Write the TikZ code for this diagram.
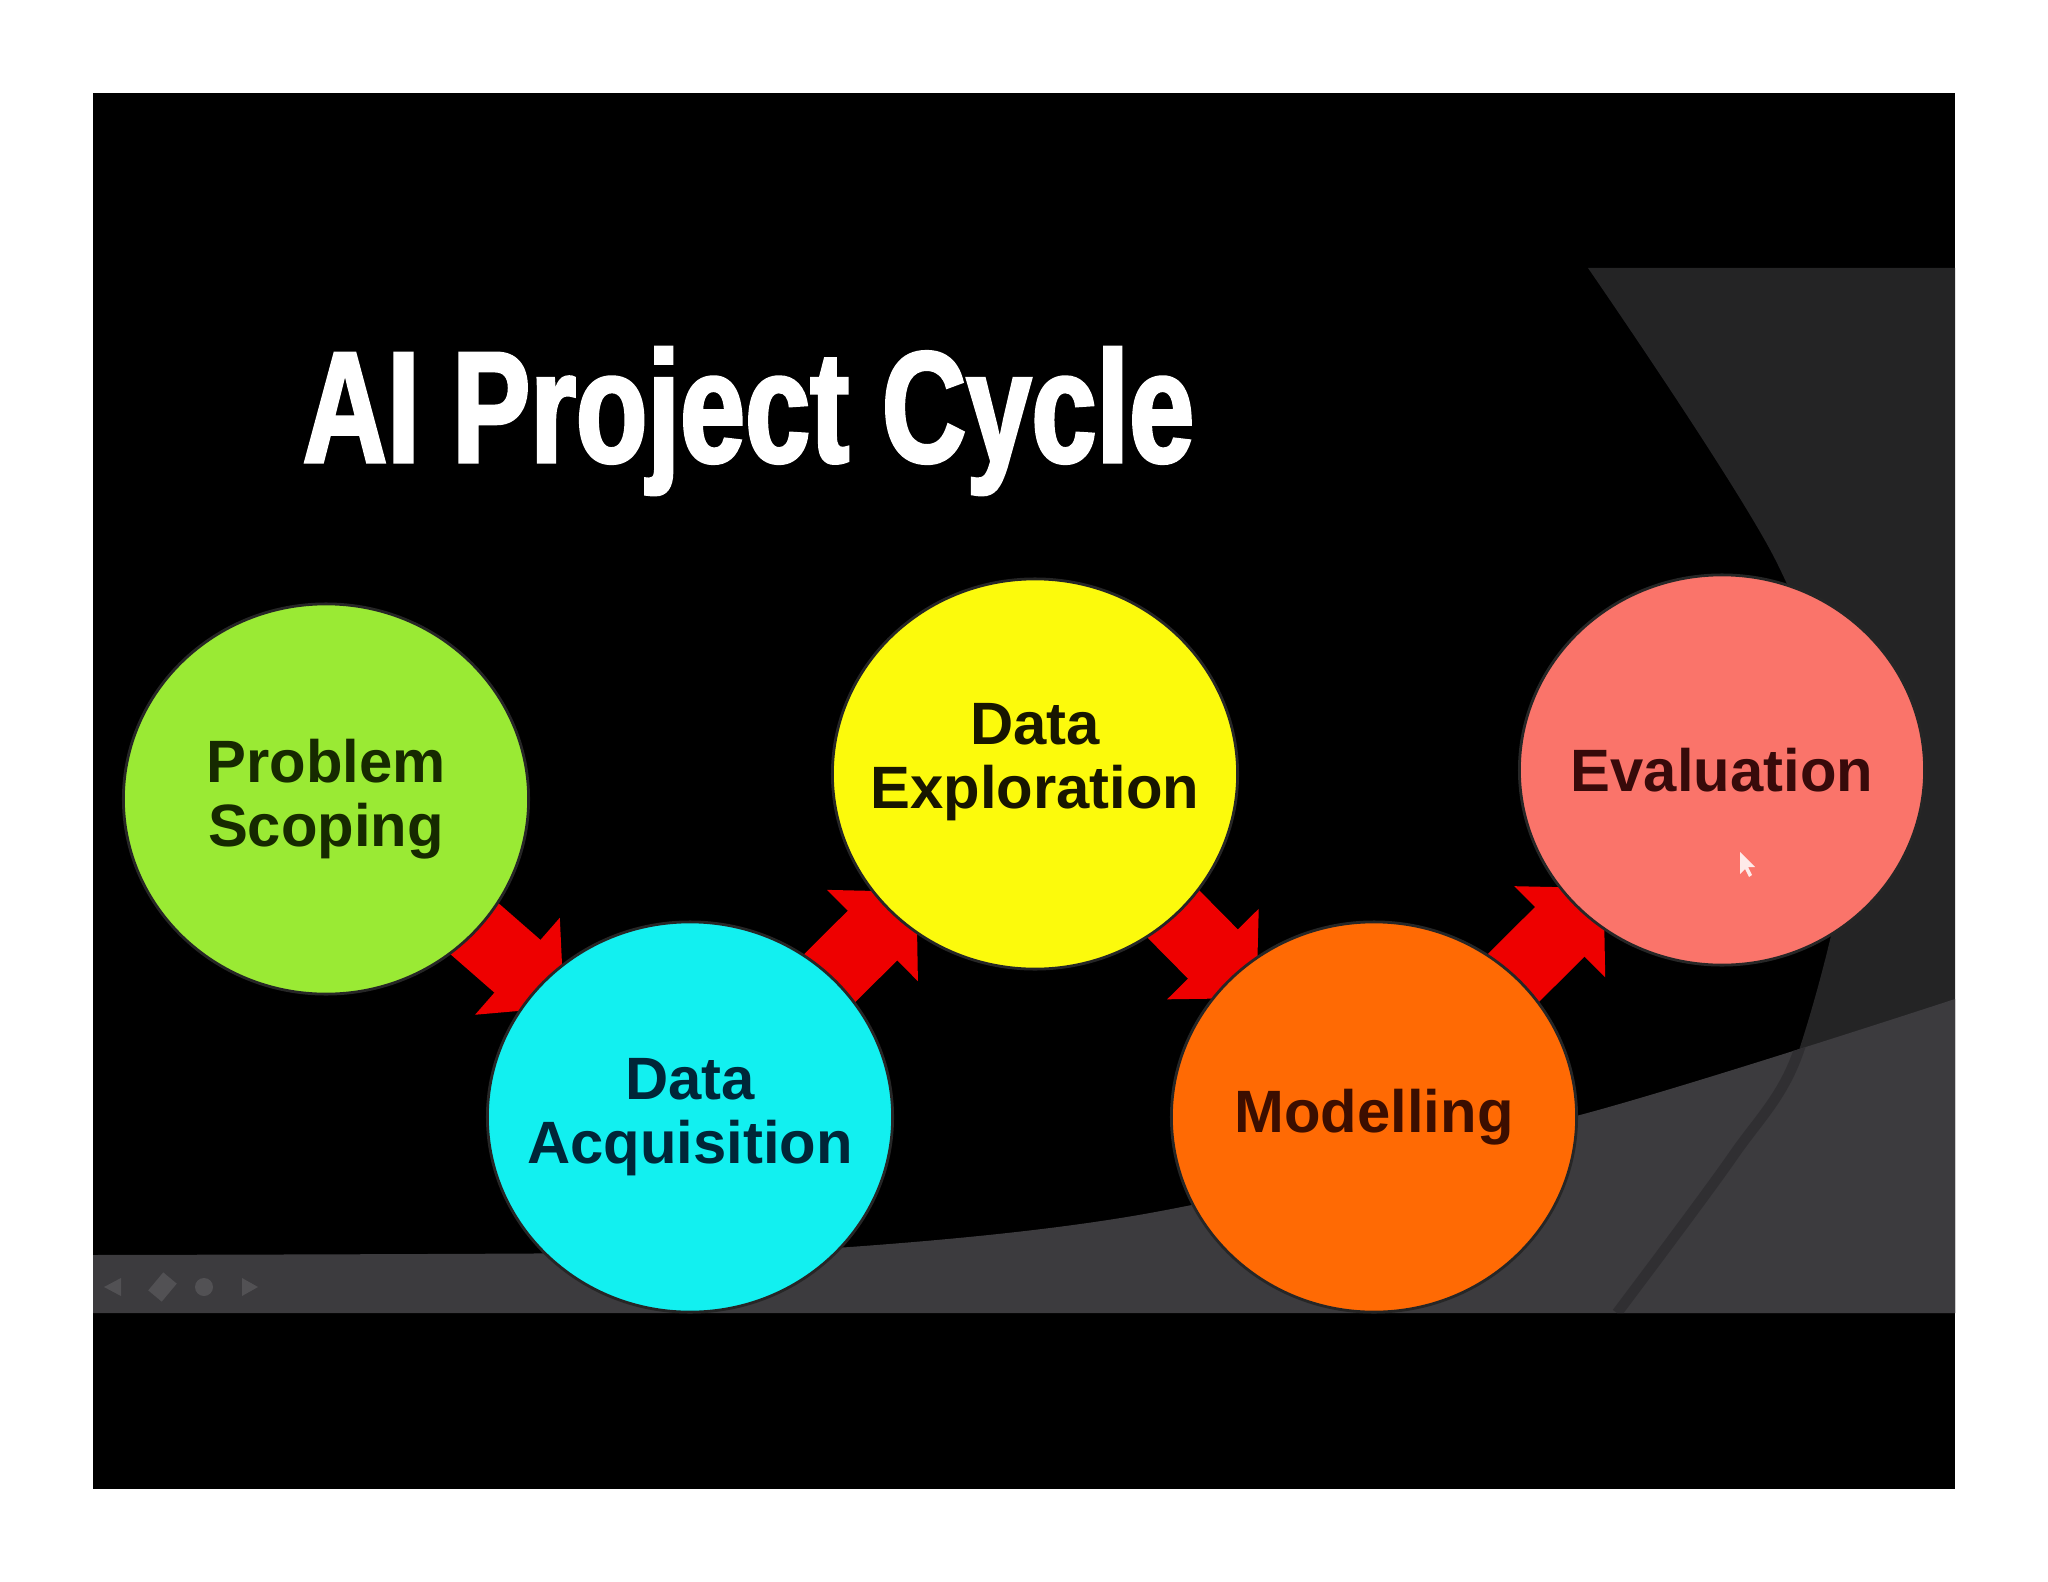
\documentclass[tikz,border=0pt]{standalone}
\usepackage{fontspec}
\setmainfont{Liberation Sans}
\newfontfamily\titlefont[FakeStretch=0.74,FakeBold=2]{Liberation Sans}
\usepackage{tikz}
\usetikzlibrary{shapes.geometric, arrows.meta, positioning, calc}

\pgfdeclarelayer{bg}
\pgfsetlayers{bg,main}

\definecolor{scopegreen}{RGB}{154,234,52}
\definecolor{acqcyan}{RGB}{18,240,240}
\definecolor{explyellow}{RGB}{252,250,12}
\definecolor{modorange}{RGB}{255,106,4}
\definecolor{evalsalmon}{RGB}{250,116,106}
\definecolor{arrowred}{RGB}{238,0,0}
\definecolor{shadegrey}{RGB}{36,36,37}
\definecolor{bandgrey}{RGB}{60,59,62}
\definecolor{seamgrey}{RGB}{48,47,50}
\definecolor{icongrey}{RGB}{82,81,84}
\definecolor{pstext}{RGB}{22,42,0}
\definecolor{datext}{RGB}{0,38,56}
\definecolor{detext}{RGB}{24,22,0}
\definecolor{motext}{RGB}{60,14,0}
\definecolor{evtext}{RGB}{56,10,10}

\tikzset{
  stage/.style={ellipse, minimum width=4.05cm, minimum height=3.9cm, inner sep=0pt,
    draw=black!85, line width=0.8pt},
  stagetext/.style={font=\bfseries\fontsize{17}{18.3}\selectfont, align=center, inner sep=0pt},
  flow/.style={draw=arrowred, line width=0.7cm, -{Triangle[width=1.25cm,length=0.62cm]},
    shorten <=1.5cm, shorten >=1.67cm}
}

\begin{document}
\begin{tikzpicture}[x=0.01cm, y=-0.01cm]
  \useasboundingbox (0,0) rectangle (2048,1582);

  % Stages of the cycle
  \node[stage, fill=scopegreen] (ps) at (326,799) {};
  \node[stage, fill=acqcyan] (da) at (690,1117) {};
  \node[stage, fill=explyellow] (de) at (1035,774) {};
  \node[stage, fill=modorange] (mo) at (1374,1117) {};
  \node[stage, fill=evalsalmon] (ev) at (1722,770) {};

  % Stage labels
  \node[stagetext, text=pstext] (pslabel) at (ps) {Problem\\Scoping};
  \node[stagetext, text=datext] (dalabel) at (da) {Data\\Acquisition};
  \node[stagetext, text=detext] (delabel) at ($(de)+(0,-12)$) {Data\\Exploration};
  \node[stagetext, text=motext] (molabel) at (mo) {Modelling};
  \node[stagetext, text=evtext] (evlabel) at (ev) {Evaluation};

  % Title
  \node[anchor=base west, text=white, inner sep=0pt,
    font=\titlefont\bfseries\fontsize{45}{45}\selectfont] (title) at (302,462) {AI Project Cycle};

  % Mouse pointer
  \fill[white!85!evalsalmon] (1740,852) -- (1740,874) -- (1745,869) -- (1749,877)
    -- (1752,875) -- (1748,867) -- (1755,867) -- cycle;

  \begin{pgfonlayer}{bg}
    % Page and screen
    \fill[white] (0,0) rectangle (2048,1582);
    \fill[black] (93,93) rectangle (1955,1489);

    % Grey backdrop shapes
    \fill[shadegrey] plot[smooth] coordinates {(1617,1313) (1733,1156) (1800,1047) (1850,800) (1777,563) (1588,268)}
      -- (1955,268) -- (1955,1313) -- cycle;
    \fill[bandgrey] plot[smooth] coordinates {(93,1255) (600,1253) (850,1247) (1150,1213) (1580,1115) (1955,999)}
      -- (1955,1313) -- (93,1313) -- cycle;
    \begin{scope}
      \clip plot[smooth] coordinates {(93,1255) (600,1253) (850,1247) (1150,1213) (1580,1115) (1955,999)}
        -- (1955,1313) -- (93,1313) -- cycle;
      \draw[seamgrey, line width=3] plot[smooth] coordinates {(1617,1313) (1733,1156) (1800,1047) (1850,800) (1777,563) (1588,268)};
    \end{scope}

    % Player controls
    \fill[icongrey] (104,1287) -- (121,1278) -- (121,1296) -- cycle;
    \draw[icongrey, line width=5] (155,1296) -- (170,1278);
    \fill[icongrey] (204,1287) circle (9);
    \fill[icongrey] (258,1287) -- (242,1278) -- (242,1296) -- cycle;

    % Arrows between stages
    \draw[flow] (ps.center) -- (da.center);
    \draw[flow] (da.center) -- (de.center);
    \draw[flow] (de.center) -- (mo.center);
    \draw[flow] (mo.center) -- (ev.center);
  \end{pgfonlayer}
\end{tikzpicture}
\end{document}
